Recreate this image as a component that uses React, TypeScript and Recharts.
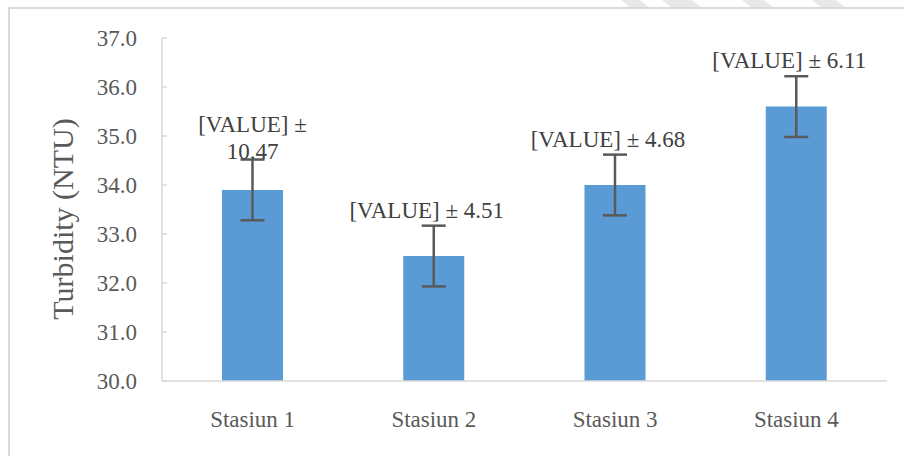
import { BarChart, Bar, XAxis, YAxis, ErrorBar, LabelList } from "recharts";

const stations = ["Stasiun 1", "Stasiun 2", "Stasiun 3", "Stasiun 4"];
const turbidity = [33.9, 32.55, 34.0, 35.6];
const errorSize = [0.62, 0.62, 0.62, 0.62];
const labelLines = [
  ["[VALUE] ±", "10.47"],
  ["[VALUE] ± 4.51"],
  ["[VALUE] ± 4.68"],
  ["[VALUE] ± 6.11"],
];
const yTicks = [30, 31, 32, 33, 34, 35, 36, 37];
const yDomain = [30, 37];

const data = stations.map((name, i) => ({
  name,
  value: turbidity[i],
  err: errorSize[i],
}));

const FONT = "'Liberation Serif', serif";
const GRID = "#d9d9d9";

const YTick = (props: any) => {
  const { x, y, payload } = props;
  return (
    <g>
      <line x1={x + 25} x2={x + 30} y1={y} y2={y} stroke={GRID} strokeWidth={1.5} />
      <text x={x} y={y} dy={8} textAnchor="end" fill="#595959" fontSize={23} style={{ fontFamily: FONT }}>
        {Number(payload.value).toFixed(1)}
      </text>
    </g>
  );
};

const ValueLabel = (props: any) => {
  const vb = props.viewBox && props.viewBox.width != null ? props.viewBox : props;
  const { x, y, width, height } = vb;
  const index = props.index;
  const d = data[index];
  if (!d) return null;
  const pxPerUnit = height / (d.value - yDomain[0]);
  const errTop = y - d.err * pxPerUnit;
  const lines = labelLines[index];
  const multi = lines.length > 1;
  const cx = x + width / 2 + (multi ? 0 : -7);
  const base = errTop - (multi ? 1 : 8);
  return (
    <text textAnchor="middle" fill="#404040" fontSize={23} style={{ fontFamily: FONT }}>
      {lines.map((line, k) => (
        <tspan key={k} x={cx} y={base - (lines.length - 1 - k) * 27}>
          {line}
        </tspan>
      ))}
    </text>
  );
};

const YTitle = () => (
  <text
    x={62}
    y={219}
    transform="rotate(-90 62 219)"
    textAnchor="middle"
    dominantBaseline="central"
    fill="#595959"
    fontSize={30}
    style={{ fontFamily: FONT }}
  >
    Turbidity (NTU)
  </text>
);

export default function App() {
  return (
    <div
      style={{
        position: "fixed",
        left: 0,
        top: 0,
        width: 904,
        height: 456,
        overflow: "hidden",
        background: "#fff",
        fontFamily: FONT,
      }}
    >
      <svg width={904} height={10} style={{ position: "absolute", left: 0, top: 0 }}>
        <polygon points="621,0 640,0 650,8 631,8" fill="#e8e8e8" />
        <polygon points="662,0 692,0 702,8 672,8" fill="#e8e8e8" />
        <polygon points="742,0 764,0 774,8 752,8" fill="#e8e8e8" />
        <polygon points="812,0 836,0 846,8 822,8" fill="#e8e8e8" />
      </svg>
      <div
        style={{
          position: "absolute",
          left: 8,
          top: 7,
          width: 1000,
          height: 1000,
          border: `2px solid ${GRID}`,
        }}
      />
      <div style={{ position: "absolute", left: 0, top: 0 }}>
        <BarChart
          width={904}
          height={456}
          data={data}
          margin={{ top: 38, right: 17, bottom: 30, left: 0 }}
          barSize={61}
          style={{ fontFamily: FONT }}
        >
          <XAxis
            dataKey="name"
            height={45}
            axisLine={{ stroke: GRID, strokeWidth: 1.5 }}
            tickLine={false}
            tickSize={0}
            tickMargin={30}
            tick={{ fill: "#595959", fontSize: 23, style: { fontFamily: FONT } }}
          />
          <YAxis
            width={162}
            domain={yDomain}
            ticks={yTicks}
            interval={0}
            allowDataOverflow
            axisLine={{ stroke: GRID, strokeWidth: 1.5 }}
            tickLine={false}
            tickSize={0}
            tickMargin={25}
            tick={<YTick />}
            label={{ content: () => <YTitle /> }}
          />
          <Bar dataKey="value" fill="#5b9bd5" isAnimationActive={false}>
            <ErrorBar
              dataKey="err"
              width={12}
              stroke="#595959"
              strokeWidth={2.5}
              direction="y"
              isAnimationActive={false}
            />
            <LabelList dataKey="value" content={<ValueLabel />} />
          </Bar>
        </BarChart>
      </div>
    </div>
  );
}
